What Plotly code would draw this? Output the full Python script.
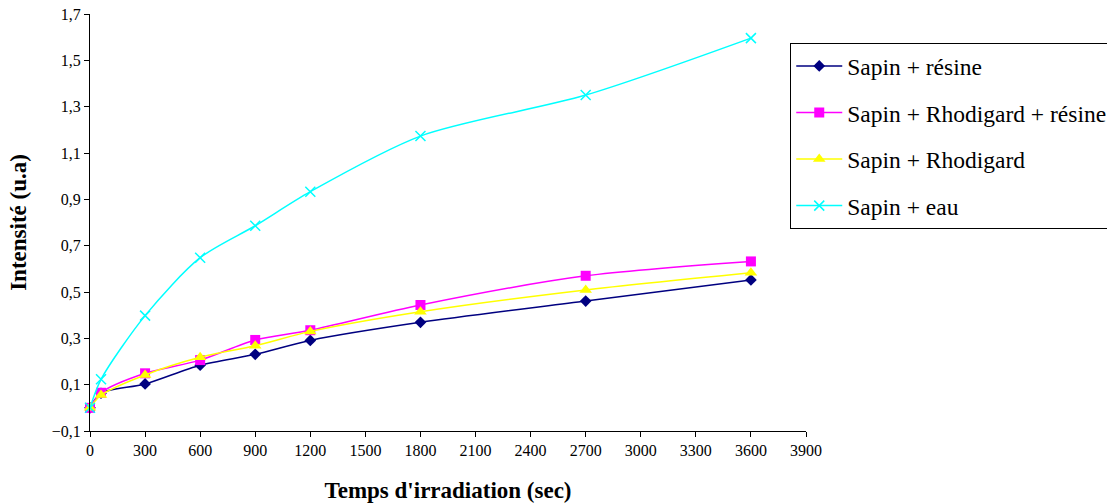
import plotly.graph_objects as go

temps = [0, 60, 300, 600, 900, 1200, 1800, 2700, 3600]
sapin_resine = [0.0, 0.063, 0.103, 0.184, 0.231, 0.291, 0.369, 0.461, 0.552]
sapin_rhodi_resine = [0.0, 0.065, 0.149, 0.206, 0.293, 0.335, 0.444, 0.570, 0.632]
sapin_rhodi = [0.0, 0.055, 0.142, 0.218, 0.268, 0.330, 0.415, 0.509, 0.583]
sapin_eau = [0.0, 0.123, 0.398, 0.648, 0.786, 0.933, 1.173, 1.350, 1.596]
y_ticks = [-0.1, 0.1, 0.3, 0.5, 0.7, 0.9, 1.1, 1.3, 1.5, 1.7]
x_ticks = list(range(0, 3901, 300))

names = ["Sapin + résine", "Sapin + Rhodigard + résine", "Sapin + Rhodigard", "Sapin + eau"]
colors = ["#000080", "#FF00FF", "#FFFF00", "#00FFFF"]
symbols = ["diamond", "square", "triangle-up", "x-thin"]
sizes = [9, 10, 11, 10]
series = [sapin_resine, sapin_rhodi_resine, sapin_rhodi, sapin_eau]

font_family = "Liberation Serif"

fig = go.Figure()
for i, (nm, col, sym, sz, ys) in enumerate(zip(names, colors, symbols, sizes, series)):
    marker = dict(symbol=sym, size=sz, color=col)
    if sym == "x-thin":
        marker["line"] = dict(color=col, width=1.5)
    fig.add_trace(go.Scatter(
        x=temps, y=ys, name=nm, mode="lines+markers",
        line=dict(color=col, width=1.5, shape="spline", smoothing=0.8),
        marker=marker, cliponaxis=False, legendgroup=str(i),
    ))

fig.update_layout(
    width=1107, height=504,
    margin=dict(l=90, r=301, t=14, b=73, autoexpand=False),
    paper_bgcolor="white", plot_bgcolor="white",
    separators=", ",
    font=dict(family=font_family, color="black", size=16),
    showlegend=True,
    legend=dict(
        x=0.978, y=0.93, xanchor="left", yanchor="top",
        bordercolor="black", borderwidth=1,
        font=dict(family=font_family, size=23.5, color="black"),
        tracegroupgap=13, itemwidth=46,
    ),
    xaxis=dict(
        range=[0, 3900], tickvals=x_ticks,
        showline=True, linecolor="black", linewidth=1,
        ticks="outside", ticklen=5, tickcolor="black",
        showgrid=False, zeroline=False, ticklabeloverflow="allow",
        tickfont=dict(family=font_family, size=16),
        title=dict(text="<b>Temps d'irradiation (sec)</b>", font=dict(family=font_family, size=23), standoff=23),
    ),
    yaxis=dict(
        range=[-0.10001, 1.70001], tickvals=y_ticks,
        tickformat=".1f",
        showline=True, linecolor="black", linewidth=1,
        ticks="outside", ticklen=5, tickcolor="black",
        showgrid=False, zeroline=False, ticklabeloverflow="allow",
        tickfont=dict(family=font_family, size=16),
        title=dict(text="<b>Intensité (u.a)</b>", font=dict(family=font_family, size=23), standoff=18),
    ),
)

fig.write_html("out.html", config={"displayModeBar": False},
               post_script="document.body.style.margin='0';")
